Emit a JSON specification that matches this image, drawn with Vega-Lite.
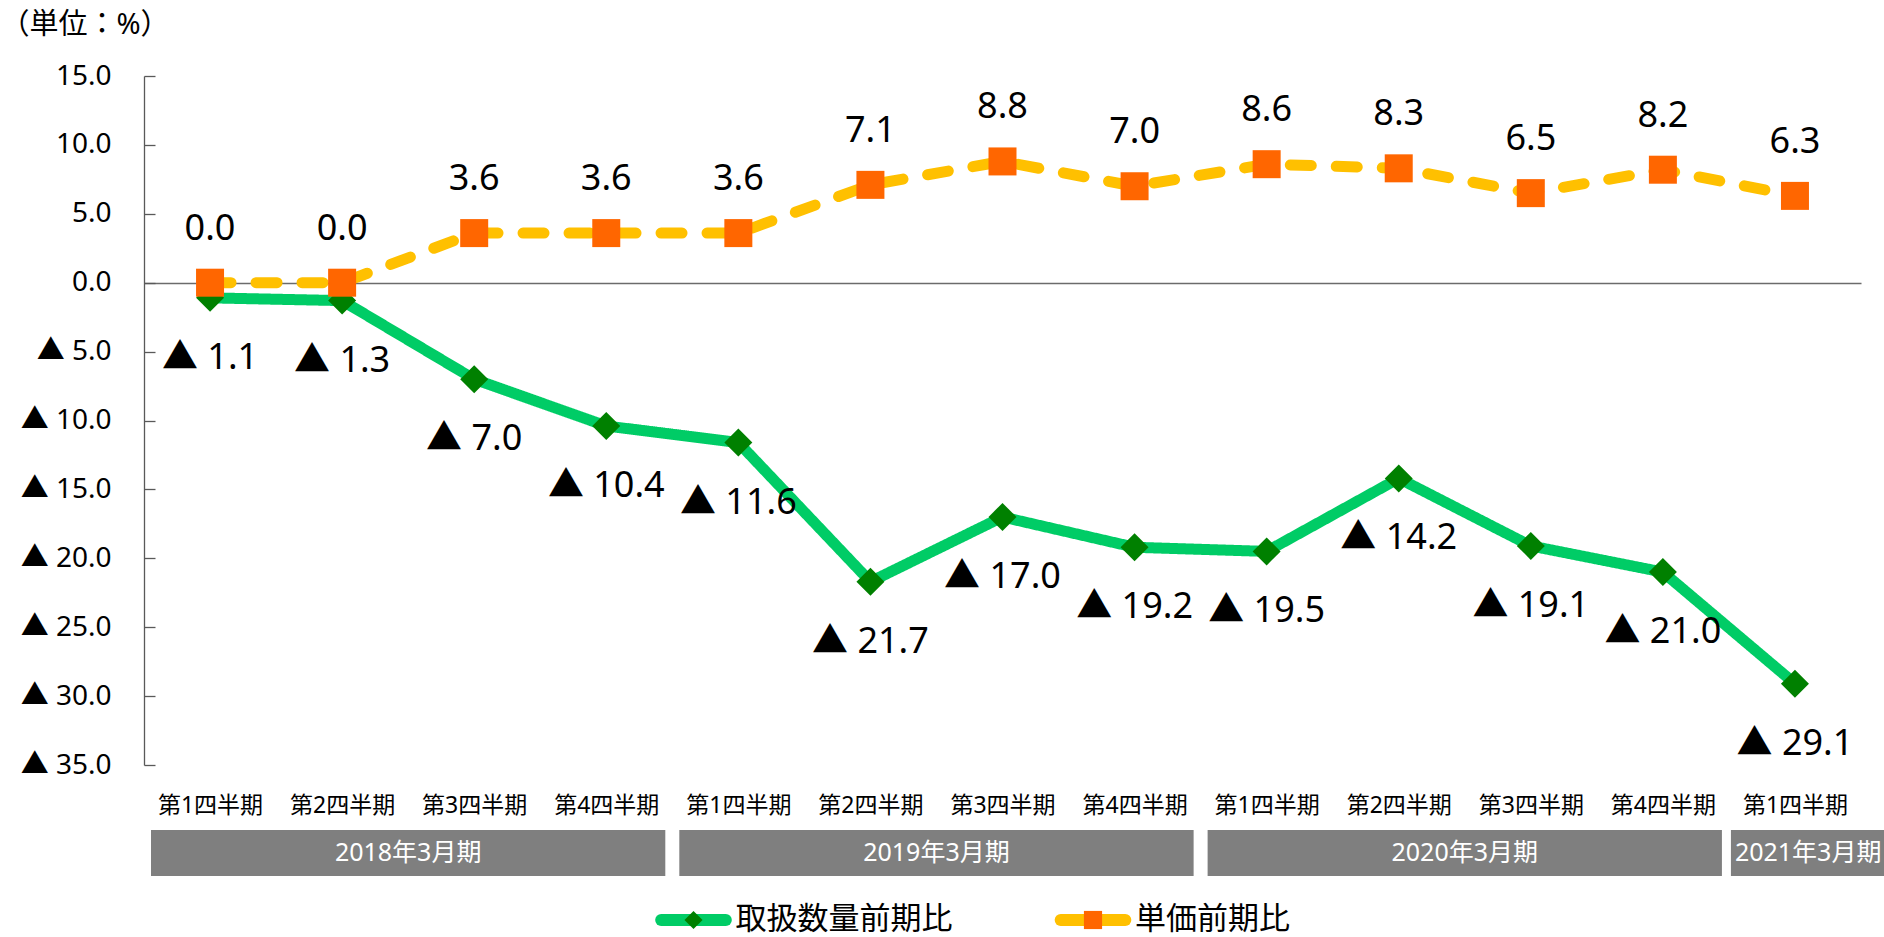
{
  "$schema": "https://vega.github.io/schema/vega-lite/v6.json",
  "padding": {"left": 0, "top": 10, "right": 0, "bottom": 0},
  "background": "white",
  "spacing": 13,
  "config": {
    "locale": {"number": {"decimal": ".", "thousands": ",", "grouping": [3], "currency": ["", ""], "minus": "▲ "}},
    "font": "Noto Sans, Noto Sans CJK JP",
    "view": {"stroke": null}
  },
  "datasets": {
    "main": [
      {"quarter": "2018年3月期第1四半期", "series": "取扱数量前期比", "value": -1.1},
      {"quarter": "2018年3月期第2四半期", "series": "取扱数量前期比", "value": -1.3},
      {"quarter": "2018年3月期第3四半期", "series": "取扱数量前期比", "value": -7.0},
      {"quarter": "2018年3月期第4四半期", "series": "取扱数量前期比", "value": -10.4},
      {"quarter": "2019年3月期第1四半期", "series": "取扱数量前期比", "value": -11.6},
      {"quarter": "2019年3月期第2四半期", "series": "取扱数量前期比", "value": -21.7},
      {"quarter": "2019年3月期第3四半期", "series": "取扱数量前期比", "value": -17.0},
      {"quarter": "2019年3月期第4四半期", "series": "取扱数量前期比", "value": -19.2},
      {"quarter": "2020年3月期第1四半期", "series": "取扱数量前期比", "value": -19.5},
      {"quarter": "2020年3月期第2四半期", "series": "取扱数量前期比", "value": -14.2},
      {"quarter": "2020年3月期第3四半期", "series": "取扱数量前期比", "value": -19.1},
      {"quarter": "2020年3月期第4四半期", "series": "取扱数量前期比", "value": -21.0},
      {"quarter": "2021年3月期第1四半期", "series": "取扱数量前期比", "value": -29.1},
      {"quarter": "2018年3月期第1四半期", "series": "単価前期比", "value": 0.0},
      {"quarter": "2018年3月期第2四半期", "series": "単価前期比", "value": 0.0},
      {"quarter": "2018年3月期第3四半期", "series": "単価前期比", "value": 3.6},
      {"quarter": "2018年3月期第4四半期", "series": "単価前期比", "value": 3.6},
      {"quarter": "2019年3月期第1四半期", "series": "単価前期比", "value": 3.6},
      {"quarter": "2019年3月期第2四半期", "series": "単価前期比", "value": 7.1},
      {"quarter": "2019年3月期第3四半期", "series": "単価前期比", "value": 8.8},
      {"quarter": "2019年3月期第4四半期", "series": "単価前期比", "value": 7.0},
      {"quarter": "2020年3月期第1四半期", "series": "単価前期比", "value": 8.6},
      {"quarter": "2020年3月期第2四半期", "series": "単価前期比", "value": 8.3},
      {"quarter": "2020年3月期第3四半期", "series": "単価前期比", "value": 6.5},
      {"quarter": "2020年3月期第4四半期", "series": "単価前期比", "value": 8.2},
      {"quarter": "2021年3月期第1四半期", "series": "単価前期比", "value": 6.3}
    ],
    "years": [
      {"fy": "2018年3月期", "first": "2018年3月期第1四半期", "last": "2018年3月期第4四半期"},
      {"fy": "2019年3月期", "first": "2019年3月期第1四半期", "last": "2019年3月期第4四半期"},
      {"fy": "2020年3月期", "first": "2020年3月期第1四半期", "last": "2020年3月期第4四半期"},
      {"fy": "2021年3月期", "first": "2021年3月期第1四半期", "last": "2021年3月期第1四半期"}
    ],
    "legend": [
      {"series": "取扱数量前期比"},
      {"series": "単価前期比"}
    ]
  },
  "resolve": {"scale": {"x": "independent"}},
  "vconcat": [
    {
      "width": 1717,
      "height": 689,
      "data": {"name": "main"},
      "encoding": {
        "x": {
          "field": "quarter", "type": "ordinal", "sort": null,
          "scale": {"type": "point", "padding": 0.5},
          "axis": {"title": null, "domain": false, "ticks": false, "labelAngle": 0, "labelFontSize": 23, "labelColor": "#000000", "labelPadding": 29, "labelExpr": "slice(datum.label, -5)"}
        },
        "y": {
          "field": "value", "type": "quantitative",
          "scale": {"domain": [-35, 15], "nice": false, "zero": false},
          "axis": {
            "values": [-35, -30, -25, -20, -15, -10, -5, 0, 5, 10, 15],
            "format": ".1f",
            "labelFontSize": 28, "labelColor": "#000000", "labelPadding": 44,
            "tickSize": -11, "tickColor": "#595959", "domainColor": "#595959", "domainWidth": 1.3, "tickWidth": 1.3,
            "grid": true, "gridColor": "#6b6b6b", "gridWidth": 1.3,
            "gridOpacity": {"condition": {"test": "datum.value === 0", "value": 1}, "value": 0},
            "title": "（単位：%）", "titleAngle": 0, "titleAlign": "left", "titleBaseline": "middle",
            "titleX": -144, "titleY": -52, "titleFontSize": 29, "titleFontWeight": "normal", "titleColor": "#000000"
          }
        }
      },
      "layer": [
        {
          "mark": {"type": "line", "strokeWidth": 11, "strokeCap": "round", "strokeJoin": "round"},
          "encoding": {
            "color": {"field": "series", "type": "nominal", "scale": {"domain": ["取扱数量前期比", "単価前期比"], "range": ["#00CC66", "#FFC000"]}, "legend": null},
            "strokeDash": {"field": "series", "type": "nominal", "scale": {"domain": ["取扱数量前期比", "単価前期比"], "range": [[1, 0], [21, 25]]}, "legend": null}
          }
        },
        {
          "mark": {"type": "point", "filled": true, "size": 784, "opacity": 1, "strokeWidth": 0},
          "encoding": {
            "shape": {"field": "series", "type": "nominal", "scale": {"domain": ["取扱数量前期比", "単価前期比"], "range": ["diamond", "square"]}, "legend": null},
            "fill": {"field": "series", "type": "nominal", "scale": {"domain": ["取扱数量前期比", "単価前期比"], "range": ["#008000", "#FF6600"]}, "legend": null}
          }
        },
        {
          "transform": [{"filter": "datum.series === '単価前期比'"}],
          "mark": {"type": "text", "fontSize": 36, "dy": -54, "baseline": "middle", "color": "#000000"},
          "encoding": {"text": {"field": "value", "type": "quantitative", "format": ".1f"}}
        },
        {
          "transform": [{"filter": "datum.series === '取扱数量前期比'"}],
          "mark": {"type": "text", "fontSize": 36, "dy": 60, "baseline": "middle", "color": "#000000"},
          "encoding": {"text": {"field": "value", "type": "quantitative", "format": ".1f"}}
        }
      ]
    },
    {
      "width": 1717,
      "height": 46,
      "data": {"name": "years"},
      "layer": [
        {
          "transform": [{"filter": "datum.first !== datum.last"}],
          "mark": {"type": "rect", "color": "#7F7F7F", "xOffset": 7, "x2Offset": -7},
          "encoding": {
            "x": {
              "field": "first", "type": "ordinal", "bandPosition": 0,
              "scale": {"type": "band", "paddingInner": 0, "paddingOuter": 0, "domain": ["2018年3月期第1四半期", "2018年3月期第2四半期", "2018年3月期第3四半期", "2018年3月期第4四半期", "2019年3月期第1四半期", "2019年3月期第2四半期", "2019年3月期第3四半期", "2019年3月期第4四半期", "2020年3月期第1四半期", "2020年3月期第2四半期", "2020年3月期第3四半期", "2020年3月期第4四半期", "2021年3月期第1四半期"]},
              "axis": null
            },
            "x2": {"field": "last", "bandPosition": 1}
          }
        },
        {
          "transform": [{"filter": "datum.first === datum.last"}],
          "mark": {"type": "rect", "color": "#7F7F7F", "xOffset": 2, "x2Offset": 23, "clip": false},
          "encoding": {
            "x": {"field": "first", "type": "ordinal", "bandPosition": 0, "axis": null},
            "x2": {"field": "last", "bandPosition": 1}
          }
        },
        {
          "transform": [{"filter": "datum.first !== datum.last"}],
          "mark": {"type": "text", "color": "#FFFFFF", "fontSize": 25, "baseline": "middle", "align": "center"},
          "encoding": {
            "x": {"field": "first", "type": "ordinal", "bandPosition": 2, "axis": null},
            "text": {"field": "fy", "type": "nominal"}
          }
        },
        {
          "transform": [{"filter": "datum.first === datum.last"}],
          "mark": {"type": "text", "color": "#FFFFFF", "fontSize": 25, "baseline": "middle", "align": "center"},
          "encoding": {
            "x": {"field": "first", "type": "ordinal", "bandPosition": 0.6, "axis": null},
            "text": {"field": "fy", "type": "nominal"}
          }
        }
      ]
    },
    {
      "width": 1717,
      "height": 62,
      "data": {"name": "legend"},
      "encoding": {
        "x": {"field": "series", "type": "nominal", "sort": null, "scale": {"type": "point", "padding": 0, "domain": ["取扱数量前期比", "単価前期比"], "range": [549.5, 949]}, "axis": null}
      },
      "layer": [
        {
          "mark": {"type": "point", "shape": "M-0.84,0L0.84,0", "size": 5929, "strokeWidth": 12, "strokeCap": "round", "filled": false, "opacity": 1},
          "encoding": {"color": {"field": "series", "type": "nominal", "scale": {"domain": ["取扱数量前期比", "単価前期比"], "range": ["#00CC66", "#FFC000"]}, "legend": null}}
        },
        {
          "mark": {"type": "point", "filled": true, "size": 330, "opacity": 1, "strokeWidth": 0},
          "encoding": {
            "shape": {"field": "series", "type": "nominal", "scale": {"domain": ["取扱数量前期比", "単価前期比"], "range": ["diamond", "square"]}, "legend": null},
            "fill": {"field": "series", "type": "nominal", "scale": {"domain": ["取扱数量前期比", "単価前期比"], "range": ["#008000", "#FF6600"]}, "legend": null}
          }
        },
        {
          "mark": {"type": "text", "align": "left", "dx": 42, "fontSize": 31, "baseline": "middle", "color": "#000000"},
          "encoding": {"text": {"field": "series", "type": "nominal"}}
        }
      ]
    }
  ]
}
